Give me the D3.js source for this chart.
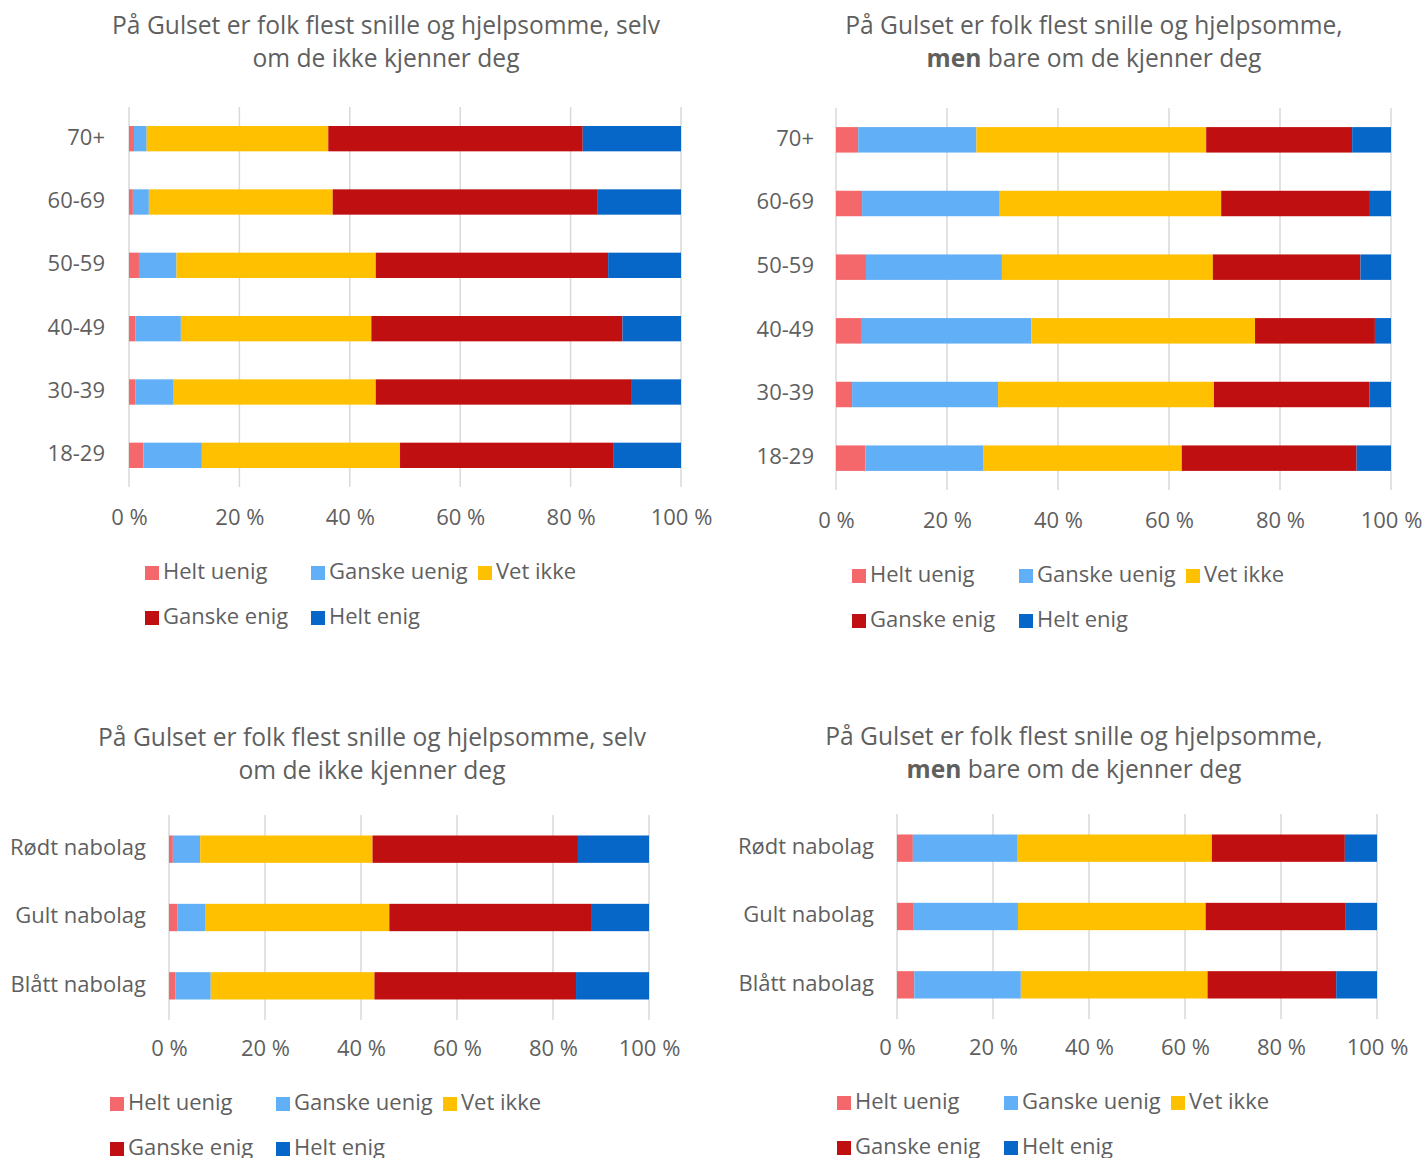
<!DOCTYPE html>
<html><head><meta charset="utf-8">
<script src="https://cdn.jsdelivr.net/npm/d3@7"></script>
<style>body{margin:0;background:#fff}svg{display:block}</style>
</head><body>
<svg id="c" width="1424" height="1158"></svg>
<script>
const seriesNames = ["Helt uenig","Ganske uenig","Vet ikke","Ganske enig","Helt enig"];
const seriesColors = ["#f4676a","#61aff7","#ffc000","#c00f11","#0667c8"];
const ageGroups = ["70+","60-69","50-59","40-49","30-39","18-29"];
const neighbourhoods = ["Rødt nabolag","Gult nabolag","Blått nabolag"];
const tickValues = [0,20,40,60,80,100];
const tickLabels = ["0 %","20 %","40 %","60 %","80 %","100 %"];

// "selv om de ikke kjenner deg" by age (rows follow ageGroups, cols follow seriesNames)
const selvAge = [
  [0.9, 2.3, 32.9, 46.1, 17.8],
  [0.7, 2.9, 33.3, 47.9, 15.2],
  [1.8, 6.8, 36.1, 42.1, 13.2],
  [1.2, 8.2, 34.5, 45.5, 10.6],
  [1.2, 6.9, 36.6, 46.4, 8.9],
  [2.6, 10.6, 35.9, 38.6, 12.3]
];
// "men bare om de kjenner deg" by age
const menAge = [
  [4.0, 21.3, 41.4, 26.3, 7.0],
  [4.7, 24.8, 39.9, 26.8, 3.8],
  [5.4, 24.5, 38.0, 26.6, 5.5],
  [4.5, 30.7, 40.3, 21.6, 2.9],
  [2.9, 26.3, 38.9, 28.0, 3.9],
  [5.3, 21.3, 35.7, 31.5, 6.2]
];
// "selv om de ikke kjenner deg" by neighbourhood
const selvHood = [
  [0.8, 5.7, 35.9, 42.8, 14.8],
  [1.8, 5.7, 38.4, 42.2, 11.9],
  [1.3, 7.4, 34.1, 42.0, 15.2]
];
// "men bare om de kjenner deg" by neighbourhood
const menHood = [
  [3.3, 21.7, 40.6, 27.7, 6.7],
  [3.5, 21.7, 39.1, 29.2, 6.5],
  [3.6, 22.2, 38.9, 26.8, 8.5]
];

const titleSelv = [["På Gulset er folk flest snille og hjelpsomme, selv"],["om de ikke kjenner deg"]];
const titleMen = [["På Gulset er folk flest snille og hjelpsomme,"],["men","bare om de kjenner deg"]];

const FONT = "'Open Sans', 'Noto Sans', sans-serif";
const TXT = "#5f5f5f";
const svg = d3.select("#c");

function drawChart(cfg){
  const g = svg.append("g");
  const x = d3.scaleLinear().domain([0,100]).range([cfg.x0, cfg.x1]);
  const y = d3.scaleBand().domain(cfg.cats).range([cfg.yTop, cfg.yBot]).paddingInner(0.6).paddingOuter(0.3);

  // title
  const t = g.append("text").attr("text-anchor","middle").attr("font-family",FONT)
    .attr("font-size",24.6).attr("fill",TXT);
  cfg.title.forEach((line,i)=>{
    const ts = t.append("tspan").attr("x",cfg.titleX).attr("y",cfg.titleY + i*33);
    if(line.length===1){ ts.text(line[0]); }
    else {
      ts.append("tspan").attr("font-weight","bold").text(line[0]);
      t.append("tspan").text(" "+line[1]);
    }
  });

  // gridlines
  g.selectAll(".grid").data(tickValues).join("line")
    .attr("x1",d=>x(d)).attr("x2",d=>x(d))
    .attr("y1",cfg.yTop).attr("y2",cfg.yBot)
    .attr("stroke","#d9d9d9").attr("stroke-width",1.5);

  // stacked bars
  const rows = cfg.cats.map((c,i)=>{
    const o = {cat:c};
    seriesNames.forEach((s,j)=>o[s]=cfg.data[i][j]);
    return o;
  });
  const stack = d3.stack().keys(seriesNames)(rows);
  g.selectAll(".layer").data(stack).join("g")
    .attr("fill",(d,i)=>seriesColors[i])
    .selectAll("rect").data(d=>d).join("rect")
    .attr("x",d=>x(d[0])).attr("width",d=>x(d[1])-x(d[0]))
    .attr("y",d=>y(d.data.cat)).attr("height",y.bandwidth());

  // x axis labels
  const xa = d3.axisBottom(x).tickValues(tickValues).tickFormat((d,i)=>tickLabels[i]).tickSize(0).tickPadding(0);
  const xg = g.append("g").attr("transform",`translate(0,${cfg.yBot})`).call(xa);
  xg.select(".domain").remove();
  xg.selectAll("text").attr("font-family",FONT).attr("font-size",22).attr("fill",TXT)
    .attr("dy",null).attr("y",cfg.tickDy).attr("dominant-baseline","middle");

  // y axis labels
  const ya = d3.axisLeft(y).tickSize(0).tickPadding(0);
  const yg = g.append("g").attr("transform",`translate(${cfg.x0 - cfg.labelGap},0)`).call(ya);
  yg.select(".domain").remove();
  yg.selectAll("text").attr("font-family",FONT).attr("font-size",22).attr("fill",TXT)
    .attr("dy",null).attr("dominant-baseline","middle");

  // legend
  const legPos = [[0,0],[1,0],[2,0],[0,1],[1,1]];
  const lg = g.append("g");
  seriesNames.forEach((s,i)=>{
    const lx = cfg.legX[legPos[i][0]], ly = cfg.legY + legPos[i][1]*45;
    lg.append("rect").attr("x",lx).attr("y",ly-7).attr("width",14).attr("height",14).attr("fill",seriesColors[i]);
    lg.append("text").attr("x",lx+18).attr("y",ly).attr("dominant-baseline","middle")
      .attr("font-family",FONT).attr("font-size",22).attr("fill",TXT).text(s);
  });
}

drawChart({cats:ageGroups,data:selvAge,title:titleSelv,titleX:386,titleY:34,
  x0:129,x1:681,yTop:107,yBot:487,tickDy:32,labelGap:24,legX:[145,311,478],legY:573});
drawChart({cats:ageGroups,data:menAge,title:titleMen,titleX:1094,titleY:34,
  x0:836,x1:1391,yTop:108,yBot:490,tickDy:32,labelGap:22,legX:[852,1019,1186],legY:576});
drawChart({cats:neighbourhoods,data:selvHood,title:titleSelv,titleX:372,titleY:746,
  x0:169,x1:649,yTop:815,yBot:1020,tickDy:30,labelGap:23,legX:[110,276,443],legY:1104});
drawChart({cats:neighbourhoods,data:menHood,title:titleMen,titleX:1074,titleY:745,
  x0:897,x1:1377,yTop:814,yBot:1019,tickDy:30,labelGap:23,legX:[837,1004,1171],legY:1103});
</script>
</body></html>
